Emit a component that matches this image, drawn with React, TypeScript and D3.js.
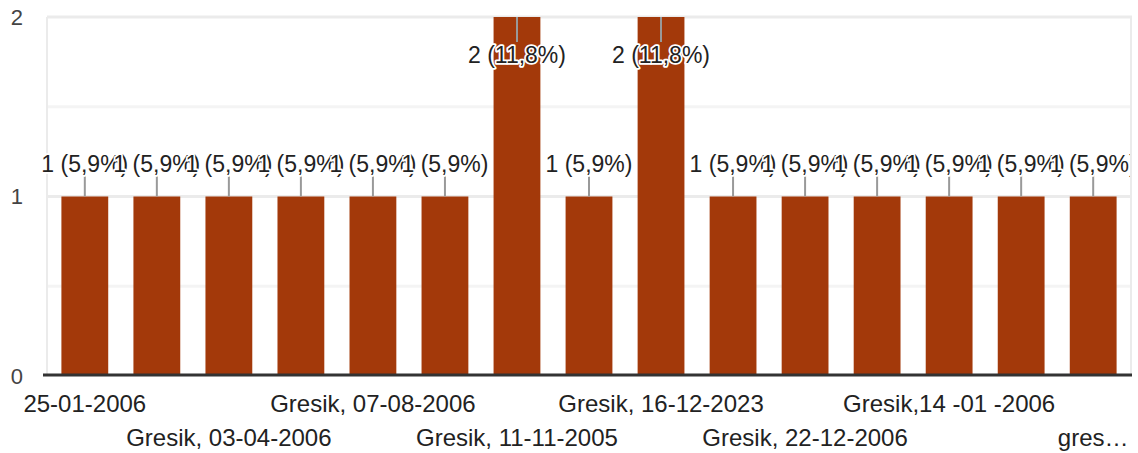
import { useEffect, useRef } from "react";
import * as d3 from "d3";

// categories (only every other one is shown under the axis, like the original)
const categories = [
  "25-01-2006",
  "Gresik, 01-02-2006",
  "Gresik, 03-04-2006",
  "Gresik, 05-06-2006",
  "Gresik, 07-08-2006",
  "Gresik, 10-10-2005",
  "Gresik, 11-11-2005",
  "Gresik, 14-06-2006",
  "Gresik, 16-12-2023",
  "Gresik, 20-09-2006",
  "Gresik, 22-12-2006",
  "Gresik, 29-07-2006",
  "Gresik,14 -01 -2006",
  "Gresik,25 -03 -2006",
  "gresik, 27-05-2006",
];
const counts = [1, 1, 1, 1, 1, 1, 2, 1, 2, 1, 1, 1, 1, 1, 1];
const yTicks = [0, 1, 2];
const minorTicks = [0.5, 1.5];

const W = 1138;
const H = 453;
const FONT = "'Liberation Sans', Arial, sans-serif";

export default function App() {
  const svgRef = useRef<SVGSVGElement | null>(null);

  useEffect(() => {
    if (!svgRef.current) return;
    const svg = d3.select(svgRef.current);
    svg.selectAll("*").remove();

    const left = 47;
    const right = 1131;
    const top = 17;
    const bottom = 376;
    const total = d3.sum(counts);
    const maxV = d3.max(counts) || 0;

    const x = d3
      .scaleBand<string>()
      .domain(categories)
      .range([left, right])
      .paddingInner(0.35)
      .paddingOuter(0.2);
    const y = d3.scaleLinear().domain([0, 2]).range([bottom, top]);

    svg
      .append("defs")
      .append("clipPath")
      .attr("id", "plotclip")
      .append("rect")
      .attr("x", 0)
      .attr("y", 0)
      .attr("width", right - 1)
      .attr("height", bottom);

    // gridlines
    svg
      .append("g")
      .selectAll("line")
      .data(minorTicks)
      .join("line")
      .attr("x1", left)
      .attr("x2", right)
      .attr("y1", (d) => y(d))
      .attr("y2", (d) => y(d))
      .attr("stroke", "#f4f4f4")
      .attr("stroke-width", 3);
    svg
      .append("g")
      .selectAll("line")
      .data(yTicks.filter((d) => d > 0))
      .join("line")
      .attr("x1", left)
      .attr("x2", right + 1)
      .attr("y1", (d) => y(d))
      .attr("y2", (d) => y(d))
      .attr("stroke", "#ebebeb")
      .attr("stroke-width", 3);
    [left, right].forEach((xx) => {
      svg
        .append("line")
        .attr("x1", xx)
        .attr("x2", xx)
        .attr("y1", top)
        .attr("y2", bottom)
        .attr("stroke", "#ebebeb")
        .attr("stroke-width", 2);
    });

    // y tick labels
    svg
      .append("g")
      .selectAll("text")
      .data(yTicks)
      .join("text")
      .attr("x", 23)
      .attr("y", (d) => y(d))
      .attr("dy", "0.36em")
      .attr("text-anchor", "end")
      .attr("font-family", FONT)
      .attr("font-size", 22)
      .attr("fill", "#444")
      .text((d) => d);

    // bars
    svg
      .append("g")
      .selectAll("rect")
      .data(counts)
      .join("rect")
      .attr("x", (_, i) => x(categories[i]) || 0)
      .attr("y", (d) => y(d))
      .attr("width", x.bandwidth())
      .attr("height", (d) => bottom - y(d))
      .attr("fill", "#a3390a");

    // baseline
    svg
      .append("line")
      .attr("x1", left - 4)
      .attr("x2", right + 1)
      .attr("y1", bottom - 1)
      .attr("y2", bottom - 1)
      .attr("stroke", "#333")
      .attr("stroke-width", 3);

    // data labels with leader lines, drawn in order so later ones cover earlier
    const lab = svg.append("g").attr("clip-path", "url(#plotclip)");
    counts.forEach((v, i) => {
      const cx = (x(categories[i]) || 0) + x.bandwidth() / 2;
      const pct = ((v / total) * 100).toFixed(1).replace(".", ",");
      const inside = v === maxV;
      const yTop = y(v);
      const y1 = inside ? yTop : yTop - 23;
      const y2 = inside ? yTop + 25 : yTop;
      const ty = inside ? yTop + 46 : yTop - 25;
      lab
        .append("line")
        .attr("x1", cx)
        .attr("x2", cx)
        .attr("y1", y1)
        .attr("y2", y2)
        .attr("stroke", "#999")
        .attr("stroke-width", 2);
      lab
        .append("text")
        .attr("x", cx)
        .attr("y", ty)
        .attr("text-anchor", "middle")
        .attr("font-family", FONT)
        .attr("font-size", 23)
        .attr("fill", "#222")
        .attr("stroke", "#fff")
        .attr("stroke-width", 3.5)
        .attr("stroke-linejoin", "round")
        .attr("paint-order", "stroke")
        .text(`${v} (${pct}%)`);
    });

    // x labels, every other category on two staggered rows
    const xg = svg.append("g");
    const maxRight = 1130;
    categories.forEach((c, i) => {
      if (i % 2 !== 0) return;
      const row = (i / 2) % 2;
      const cx = (x(c) || 0) + x.bandwidth() / 2;
      const t = xg
        .append("text")
        .attr("x", cx)
        .attr("y", row === 0 ? 412 : 446)
        .attr("text-anchor", "middle")
        .attr("font-family", FONT)
        .attr("font-size", 24)
        .attr("fill", "#222")
        .text(c);
      const node = t.node() as SVGTextElement;
      if (cx + node.getComputedTextLength() / 2 > maxRight) {
        let s = c;
        while (s.length > 1) {
          s = s.slice(0, -1);
          t.text(s + "…");
          if (cx + node.getComputedTextLength() / 2 <= maxRight) break;
        }
      }
    });
  }, []);

  return (
    <svg
      ref={svgRef}
      width={W}
      height={H}
      style={{ position: "absolute", left: 0, top: 0, background: "#fff" }}
    ></svg>
  );
}
